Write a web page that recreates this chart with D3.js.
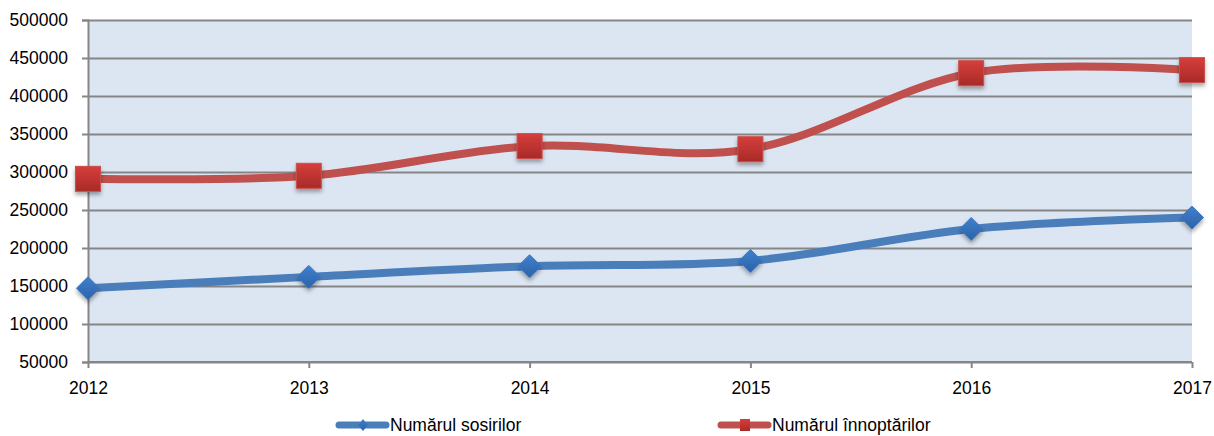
<!DOCTYPE html>
<html>
<head>
<meta charset="utf-8">
<script src="https://cdn.jsdelivr.net/npm/d3@7"></script>
<style>
  html, body { margin: 0; padding: 0; background: #fff; }
  svg { display: block; font-family: "Liberation Sans", Arial, sans-serif; }
</style>
</head>
<body>
<svg id="chart" width="1214" height="436"></svg>
<script>
const years = ["2012", "2013", "2014", "2015", "2016", "2017"];
const sosiri = [147000, 162000, 176000, 183000, 225000, 240000];
const innoptari = [291000, 295000, 334000, 330000, 430000, 434000];
const yTicks = [50000, 100000, 150000, 200000, 250000, 300000, 350000, 400000, 450000, 500000];
const seriesNames = ["Numărul sosirilor", "Numărul înnoptărilor"];

const svg = d3.select("#chart");
const pLeft = 88, pRight = 1192, pTop = 20, pBottom = 362;

const x = d3.scalePoint().domain(years).range([pLeft, pRight]);
const y = d3.scaleLinear().domain([50000, 500000]).range([pBottom, pTop]);

const defs = svg.append("defs");
const f = defs.append("filter").attr("id", "shadow").attr("x", "-50%").attr("y", "-50%").attr("width", "200%").attr("height", "200%");
f.append("feDropShadow").attr("dx", 0).attr("dy", 3).attr("stdDeviation", 2.2).attr("flood-color", "#000").attr("flood-opacity", 0.35);

const gRed = defs.append("linearGradient").attr("id", "gRed").attr("x1", 0).attr("y1", 0).attr("x2", 0).attr("y2", 1);
gRed.append("stop").attr("offset", "0%").attr("stop-color", "#d63e3b");
gRed.append("stop").attr("offset", "100%").attr("stop-color", "#a82a28");
const gBlue = defs.append("linearGradient").attr("id", "gBlue").attr("x1", 0).attr("y1", 0).attr("x2", 0).attr("y2", 1);
gBlue.append("stop").attr("offset", "0%").attr("stop-color", "#3f80cf");
gBlue.append("stop").attr("offset", "100%").attr("stop-color", "#2d62a6");

// plot background
svg.append("rect").attr("x", pLeft).attr("y", pTop).attr("width", pRight - pLeft).attr("height", pBottom - pTop).attr("fill", "#dce6f2");

// y axis with gridlines
const yAxis = d3.axisLeft(y).tickValues(yTicks).tickSize(6).tickPadding(14).tickFormat(d3.format("d"));
const ya = svg.append("g").attr("transform", `translate(${pLeft},0)`).call(yAxis);
ya.select(".domain").attr("stroke", "#868686").attr("stroke-width", 2);
ya.selectAll(".tick line").attr("stroke", "#868686").attr("stroke-width", 2);
ya.selectAll(".tick text").attr("fill", "#000").attr("font-size", "17.5px");
ya.selectAll(".tick").append("line").attr("x1", 0).attr("x2", pRight - pLeft).attr("stroke", "#868686").attr("stroke-width", 2);

// x axis
const xAxis = d3.axisBottom(x).tickSize(6).tickPadding(14);
const xa = svg.append("g").attr("transform", `translate(0,${pBottom})`).call(xAxis);
xa.select(".domain").attr("stroke", "#868686").attr("stroke-width", 2).attr("d", `M${pLeft},0H${pRight}`);
xa.selectAll(".tick line").attr("stroke", "#868686").attr("stroke-width", 2);
xa.selectAll(".tick text").attr("fill", "#000").attr("font-size", "17.5px");

const line = d3.line().x((d, i) => x(years[i])).y(d => y(d)).curve(d3.curveCardinal.tension(0));

const series = [
  { name: seriesNames[0], values: sosiri, color: "#4a7ebb", shape: "diamond" },
  { name: seriesNames[1], values: innoptari, color: "#c0504d", shape: "square" }
];

series.forEach(s => {
  svg.append("path").datum(s.values).attr("d", line).attr("fill", "none")
    .attr("stroke", s.color).attr("stroke-width", 8).attr("stroke-linecap", "round");
});

series.forEach(s => {
  const g = svg.append("g").attr("filter", "url(#shadow)");
  s.values.forEach((v, i) => {
    const cx = x(years[i]), cy = y(v);
    if (s.shape === "square") {
      g.append("rect").attr("x", cx - 12.5).attr("y", cy - 12.5).attr("width", 25).attr("height", 25)
        .attr("fill", "url(#gRed)").attr("stroke", "#c9504d").attr("stroke-width", 1);
    } else {
      const r = 11.5;
      g.append("path").attr("d", `M${cx},${cy - r}L${cx + r},${cy}L${cx},${cy + r}L${cx - r},${cy}Z`)
        .attr("fill", "url(#gBlue)").attr("stroke", "#3c76c0").attr("stroke-width", 1);
    }
  });
});

// legend
const legendX = [336, 718];
series.forEach((s, i) => {
  const lx = legendX[i], ly = 425;
  const g = svg.append("g");
  g.append("line").attr("x1", lx + 3).attr("x2", lx + 50).attr("y1", ly).attr("y2", ly)
    .attr("stroke", s.color).attr("stroke-width", 7).attr("stroke-linecap", "round");
  const cx = lx + 27;
  if (s.shape === "square") {
    g.append("rect").attr("x", cx - 5).attr("y", ly - 6).attr("width", 10).attr("height", 12).attr("fill", "url(#gRed)");
  } else {
    const r = 6;
    g.append("path").attr("d", `M${cx},${ly - r}L${cx + r * 0.8},${ly}L${cx},${ly + r}L${cx - r * 0.8},${ly}Z`).attr("fill", "url(#gBlue)");
  }
  g.append("text").attr("x", lx + 54).attr("y", ly).attr("dy", "0.35em")
    .attr("font-size", "17.5px").attr("fill", "#000").text(s.name);
});
</script>
</body>
</html>
